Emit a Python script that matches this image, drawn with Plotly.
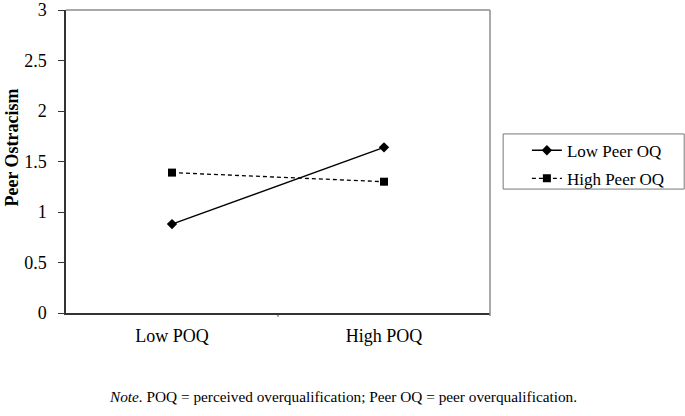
import plotly.graph_objects as go

categories = ["Low POQ", "High POQ"]
low_peer_oq = [0.88, 1.64]
high_peer_oq = [1.39, 1.30]
y_ticks = [0, 0.5, 1, 1.5, 2, 2.5, 3]
y_tick_labels = ["0", "0.5", "1", "1.5", "2", "2.5", "3"]

FONT = "Liberation Serif, Times New Roman, serif"

fig = go.Figure()

fig.add_trace(
    go.Scatter(
        x=[0, 1],
        y=low_peer_oq,
        mode="lines+markers",
        name="Low Peer OQ",
        legendgroup="low",
        line=dict(color="black", width=1.5),
        marker=dict(symbol="diamond", size=8, color="black"),
    )
)
fig.add_trace(
    go.Scatter(
        x=[0, 1],
        y=high_peer_oq,
        mode="lines+markers",
        name="High Peer OQ",
        legendgroup="high",
        line=dict(color="black", width=1.3, dash="4px,3px"),
        marker=dict(symbol="square", size=8, color="black"),
    )
)

# grey plot-area border on top and right
fig.add_shape(type="line", xref="paper", yref="paper", x0=0, x1=1, y0=1, y1=1,
              line=dict(color="#8c8c8c", width=1.5))
fig.add_shape(type="line", xref="paper", yref="paper", x0=1, x1=1, y0=-0.01, y1=1,
              line=dict(color="#8c8c8c", width=1.5))
# legend frame
fig.add_shape(type="rect", xref="paper", yref="paper", x0=1.031, x1=1.458, y0=0.409, y1=0.591,
              line=dict(color="#777777", width=1))

fig.add_annotation(
    text="<b>Peer Ostracism</b>", textangle=-90,
    xref="paper", yref="paper", x=-0.128, y=0.545,
    xanchor="center", yanchor="middle",
    showarrow=False, font=dict(family=FONT, size=18, color="black"),
)
fig.add_annotation(
    text="<i>Note.</i> POQ = perceived overqualification; Peer OQ = peer overqualification.",
    xref="paper", yref="paper", x=0.097, y=-0.277, xanchor="left", yanchor="middle",
    showarrow=False, font=dict(family=FONT, size=15.3, color="black"),
)

fig.update_layout(
    width=685,
    height=416,
    margin=dict(l=66, r=195, t=10, b=103),
    paper_bgcolor="white",
    plot_bgcolor="white",
    font=dict(family=FONT, size=17, color="black"),
    showlegend=True,
    legend=dict(
        x=1.087, y=0.595, xanchor="left", yanchor="top",
        bgcolor="rgba(0,0,0,0)", borderwidth=0,
        font=dict(family=FONT, size=17, color="black"),
        traceorder="grouped",
        tracegroupgap=3,
    ),
    xaxis=dict(
        range=[-0.5, 1.5],
        tickmode="array",
        tickvals=[0, 1],
        ticktext=categories,
        ticks="",
        showgrid=False,
        zeroline=False,
        showline=True,
        linecolor="#333333",
        linewidth=1.5,
        ticklabelstandoff=6,
        automargin=False,
        tickfont=dict(family=FONT, size=18, color="black"),
    ),
    yaxis=dict(
        range=[0, 3],
        tickmode="array",
        tickvals=y_ticks,
        ticktext=y_tick_labels,
        ticks="outside",
        ticklen=6,
        tickcolor="#333333",
        showgrid=False,
        zeroline=False,
        showline=True,
        linecolor="#333333",
        linewidth=1.5,
        ticklabelstandoff=8,
        automargin=False,
        tickfont=dict(family=FONT, size=18, color="black"),
    ),
)

# category boundary tick at the middle of the x axis
fig.add_shape(type="line", xref="x", yref="paper", x0=0.5, x1=0.5, y0=0, y1=-0.012,
              line=dict(color="#333333", width=1))

fig.write_html(
    "out.html",
    config={"displayModeBar": False},
    post_script="document.body.style.margin='0px';",
)
